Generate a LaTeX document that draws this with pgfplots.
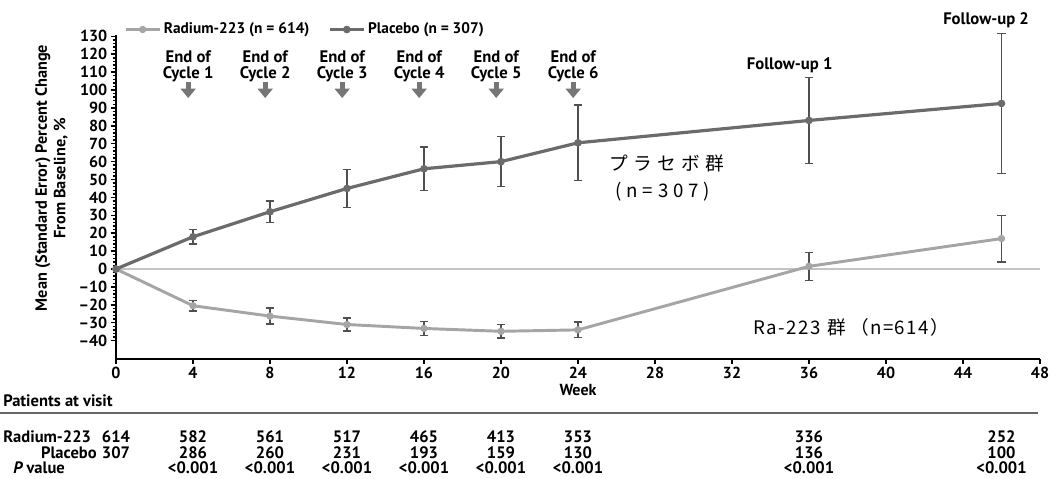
\documentclass[border=0pt]{standalone}
\usepackage{pgfplots}
\pgfplotsset{compat=1.18}
\usepackage{pgfplotstable}
\usepackage{fontspec}
\usetikzlibrary{arrows.meta}
\setmainfont{PT Sans}
\newfontfamily\jpsp[LetterSpace=26]{Noto Sans CJK JP}
\newfontfamily\jpra[LetterSpace=8]{Noto Sans CJK JP}

\definecolor{plac}{HTML}{6B6B6B}
\definecolor{rad}{HTML}{A5A5A5}
\definecolor{errc}{HTML}{505050}
\definecolor{arrc}{HTML}{767676}
\definecolor{zeroc}{HTML}{C4C4C4}

% week, mean percent change, standard error
\pgfplotstableread{
w    v      e
0    0      0
4    18     4
8    32     6
12   45     10.5
16   56     12.2
20   60     14
24   70.5   21
36   83     24
46   92.5   39
}\placebo

\pgfplotstableread{
w    v      e
0    0      0
4    -20.5  3
8    -26.3  4.5
12   -31    3.7
16   -33.2  3.9
20   -34.8  3.8
24   -34    4.3
36   1.5    7.8
46   17     13
}\radium

\newcommand{\tfont}{\fontsize{12}{12}\selectfont\bfseries}
\newcommand{\rfont}{\fontsize{12.4}{12.4}\selectfont\bfseries}
\newcommand{\cfont}{\fontsize{12.5}{12}\selectfont\bfseries}

\begin{document}
\begin{tikzpicture}
\begin{axis}[
  scale only axis,
  width=693pt, height=243pt,
  xmin=0, xmax=48, ymin=-50, ymax=131,
  clip=false,
  axis x line*=bottom, axis y line*=left,
  axis line style={-, line width=1.5pt, black},
  xtick={0,4,...,48},
  xticklabels={0,4,8,12,16,20,24,28,32,36,40,44,48},
  ytick={-40,-30,...,130},
  yticklabels={–40,–30,–20,–10,0,10,20,30,40,50,60,70,80,90,100,110,120,130},
  minor y tick num=4,
  tick align=outside,
  major tick length=4pt, minor tick length=2.5pt,
  every tick/.style={black, line width=1.1pt},
  tick label style={font=\tfont},
  xticklabel style={yshift=1pt},
  yticklabel style={xshift=1pt},
  legend columns=2,
  legend style={draw=none, fill=none, at={(axis cs:0.2,133.8)}, anchor=west,
    font=\fontsize{11.5}{12}\selectfont\bfseries,
    /tikz/every even column/.append style={column sep=12pt}},
  legend image code/.code={\draw[#1, mark repeat=2, mark phase=2]
     plot coordinates {(0cm,0cm) (0.45cm,0cm) (0.9cm,0cm)};},
]
% baseline at zero change
\addplot[zeroc, line width=1.3pt, forget plot] coordinates {(0,0) (48,0)};

\addplot[rad, line width=2.2pt, mark=*, mark size=1.6pt,
  error bars/.cd, y dir=both, y explicit,
  error bar style={line width=1.1pt, errc},
  error mark options={rotate=90, mark size=3.2pt, line width=1.1pt, errc}]
  table[x=w, y=v, y error=e]{\radium};
\addlegendentry{Radium-223 (n = 614)}

\addplot[plac, line width=2.4pt, mark=*, mark size=1.6pt,
  error bars/.cd, y dir=both, y explicit,
  error bar style={line width=1.1pt, errc},
  error mark options={rotate=90, mark size=3.2pt, line width=1.1pt, errc}]
  table[x=w, y=v, y error=e]{\placebo};
\addlegendentry{Placebo (n = 307)}

% treatment cycle annotations
\foreach \c/\w in {1/3.75,2/7.75,3/11.75,4/15.75,5/19.75,6/23.75}{
  \edef\doit{\noexpand\node[align=center, font=\noexpand\cfont, inner sep=0pt]
    at (axis cs:\w,113.5) {End of\noexpand\\Cycle \c};
  \noexpand\draw[arrc, line width=3.5pt, -{Triangle[width=11pt,length=7pt]}]
    (axis cs:\w,104.5) -- (axis cs:\w,95.5);}
  \doit
}
\node[font=\cfont] at (axis cs:35.0,114) {Follow-up 1};
\node[font=\cfont] at (axis cs:45.2,139) {Follow-up 2};

% group labels
\node[font=\jpsp\fontsize{14}{14}\selectfont] at (axis cs:28.6,59)
  {プ\hspace{4pt}ラ\hspace{4pt}セ\hspace{4pt}ボ\hspace{4pt}群};
\node[font=\jpsp\fontsize{14}{14}\selectfont] at (axis cs:28.4,43.3) {(n=307)};
\node[font=\jpra\fontsize{14}{14}\selectfont] at (axis cs:38.2,-32.4)
  {Ra-223\hspace{5pt}群\hspace{3pt}（n=614）};

% y axis title
\node[rotate=90, align=center, font=\fontsize{12.2}{14}\selectfont\bfseries]
  at (axis cs:-3.35,50.8) {Mean (Standard Error) Percent Change\\From Baseline, \%};

% x axis title
\node[font=\tfont] at (axis cs:24,-67.8) {Week};

% patients at visit table
\node[anchor=west, font=\rfont, inner sep=0pt] at (axis cs:-5.87,-73.5) {Patients at visit};
\draw[gray!80!black, line width=1.6pt] (axis cs:-6.03,-80.5) -- (axis cs:47.9,-80.5);
\node[anchor=west, font=\rfont, inner sep=0pt] at (axis cs:-5.87,-93.6) {Radium-223};
\node[anchor=east, font=\rfont, inner sep=0pt] at (axis cs:-0.99,-102.6) {Placebo};
\node[anchor=west, font=\rfont, inner sep=0pt] at (axis cs:-5.35,-111.2) {\itshape P\upshape\ value};
\foreach \w/\r/\p in {0/614/307,4/582/286,8/561/260,12/517/231,16/465/193,20/413/159,24/353/130,36/336/136,46/252/100}{
  \edef\doit{\noexpand\node[font=\noexpand\rfont, inner sep=0pt] at (axis cs:\w,-93.6) {\r};
  \noexpand\node[font=\noexpand\rfont, inner sep=0pt] at (axis cs:\w,-102.6) {\p};}
  \doit
}
\foreach \w in {4,8,12,16,20,24,36,46}{
  \edef\doit{\noexpand\node[font=\noexpand\rfont, inner sep=0pt] at (axis cs:\w,-111.2) {<0.001};}
  \doit
}

\coordinate (bbsw) at (axis cs:-6.026,-117.3);
\coordinate (bbne) at (axis cs:48.52,150.28);
\end{axis}
\pgfresetboundingbox
\useasboundingbox (bbsw) rectangle (bbne);
\end{tikzpicture}
\end{document}
